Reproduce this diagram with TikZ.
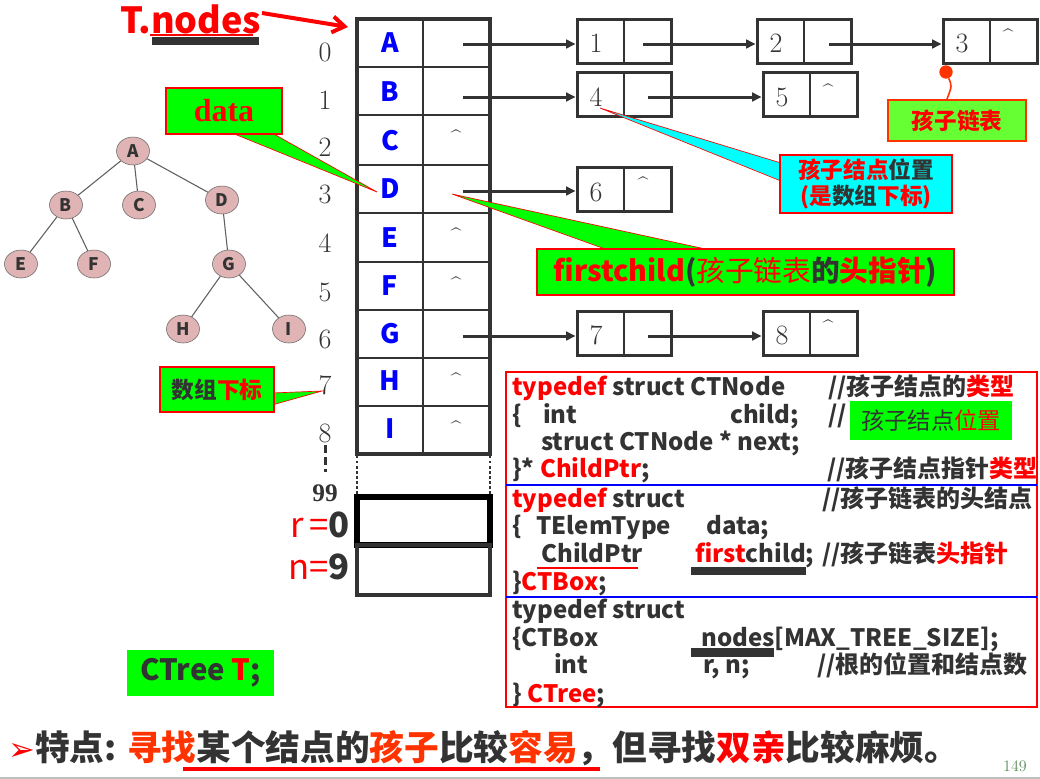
\documentclass[tikz,border=0pt]{standalone}
\usepackage{fontspec}
\newfontfamily\cjk{Noto Sans CJK SC}
\newfontfamily\dejavu{DejaVu Sans}
\newfontfamily\tms{Liberation Serif}
\usetikzlibrary{arrows.meta,shapes.geometric}
\definecolor{dk}{HTML}{333333}
\definecolor{rd}{HTML}{FF0000}
\definecolor{gr}{HTML}{00FF00}
\definecolor{grb}{HTML}{66FF33}
\definecolor{cy}{HTML}{00FFFF}
\definecolor{pk}{HTML}{E0B4B4}
\definecolor{og}{HTML}{FF3300}
\definecolor{bl}{HTML}{0000FF}
\definecolor{pg}{HTML}{5B8C5B}
\newcommand\myfs[1]{\fontsize{#1}{#1}\selectfont}
\begin{document}
\begin{tikzpicture}[x=0.75pt,y=-0.75pt,
  idx/.style={font=\myfs{21}, text=dk, inner sep=0},
  letr/.style={font=\cjk\bfseries\myfs{20}, text=bl, inner sep=0},
  car/.style={font=\myfs{14}, text=dk, inner sep=0, anchor=base},
  lbox/.style={draw=dk, line width=2.25pt, minimum width=70.5pt, minimum height=33pt, inner sep=0},
  num/.style={font=\myfs{21}, text=dk, inner sep=0},
  arr/.style={draw=dk, line width=2.25pt, -{Triangle[length=7pt,width=6.5pt]}},
  tn/.style={ellipse, draw=gray!80!black, fill=pk, minimum width=24.75pt, minimum height=21pt, inner sep=0, font=\cjk\bfseries\myfs{13}, text=dk},
  tedge/.style={draw=gray!75!black, line width=0.8pt},
  code/.style={font=\cjk\bfseries\myfs{18}, text=dk, inner sep=0, anchor=base west},
  wedge/.style={draw=rd, line width=0.5pt},
  cbox/.style={draw=rd, line width=0.8pt, inner sep=0}
]
\path[use as bounding box] (0,0) rectangle (1040,779);
\fill[white] (0,0) rectangle (1040,779);

% ---------- T.nodes ----------
\node[anchor=base west, inner sep=0, font=\cjk\bfseries\myfs{27}, text=rd] (tnodes) at (120,33) {T.nodes};
\draw[rd, line width=1.5pt] (150,35) -- (253,35);
\fill[dk] (152,37) rectangle (259,45);
\coordinate (arrT) at (348,27);
\draw[rd, line width=3pt, -{Straight Barb[length=9pt,width=12pt]}] (262,13) -- (arrT);

% ---------- tree ----------
\node[tn] (tA) at (133,151) {A};
\node[tn] (tB) at (66,205) {B};
\node[tn] (tC) at (139,205) {C};
\node[tn] (tD) at (222,200) {D};
\node[tn] (tE) at (21,264) {E};
\node[tn] (tF) at (94,264) {F};
\node[tn] (tG) at (229,264) {G};
\node[tn] (tH) at (183,329) {H};
\node[tn] (tI) at (289,329) {I};
\draw[tedge] (tA) -- (tB);
\draw[tedge] (tA) -- (tC);
\draw[tedge] (tA) -- (tD);
\draw[tedge] (tB) -- (tE);
\draw[tedge] (tB) -- (tF);
\draw[tedge] (tD) -- (tG);
\draw[tedge] (tG) -- (tH);
\draw[tedge] (tG) -- (tI);

% ---------- index numbers ----------
\node[idx] (i0) at (325,52) {0};
\node[idx] (i1) at (325,100) {1};
\node[idx] (i2) at (325,147) {2};
\node[idx] (i3) at (325,194) {3};
\node[idx] (i4) at (325,243) {4};
\node[idx] (i5) at (325,292) {5};
\node[idx] (i6) at (325,339) {6};
\node[idx] (i7) at (325,385) {7};
\node[idx] (i8) at (325,433) {8};
\draw[dk, line width=2.25pt, dash pattern=on 6pt off 3pt] (325,445) -- (325,472);
\node[idx, font=\tms\bfseries\myfs{19}] (i99) at (325,493) {99};

% ---------- array ----------
\foreach \y in {67,115,165,213,262,310,358,406}
  \draw[dk, line width=1.2pt] (357,\y) -- (490,\y);
\draw[dk, line width=1.2pt] (423,19) -- (423,454);
\draw[dk, line width=2.6pt] (357,19) rectangle (490,454);
\node[letr] (cA) at (390,43) {A};
\node[letr] (cB) at (390,92) {B};
\node[letr] (cC) at (390,141) {C};
\node[letr] (cD) at (390,189) {D};
\node[letr] (cE) at (390,238) {E};
\node[letr] (cF) at (390,286) {F};
\node[letr] (cG) at (390,334) {G};
\node[letr] (cH) at (390,381) {H};
\node[letr] (cI) at (390,429) {I};
\node[car] (kC) at (456,143) {\textasciicircum};
\node[car] (kE) at (456,241) {\textasciicircum};
\node[car] (kF) at (456,290) {\textasciicircum};
\node[car] (kH) at (456,386) {\textasciicircum};
\node[car] (kI) at (456,434) {\textasciicircum};
\draw[dk, line width=1.8pt, dotted] (357,456) -- (357,497);
\draw[dk, line width=1.8pt, dotted] (490,456) -- (490,497);
\draw[black, line width=3.8pt] (357,497) rectangle (490,545);
\draw[dk, line width=3pt] (357,545) rectangle (490,595);
\node[anchor=east, inner sep=0, font=\cjk\myfs{26}, text=rd] (rlab) at (350,525) {r\,=\textcolor{dk}{\bfseries 0}};
\node[anchor=east, inner sep=0, font=\cjk\myfs{26}, text=rd] (nlab) at (350,567) {n=\textcolor{dk}{\bfseries 9}};

% ---------- child lists ----------
\node[lbox] (n1) at (624,41) {};
\node[lbox] (n2) at (804,41) {};
\node[lbox] (n3) at (990,41) {};
\node[lbox] (n4) at (624,94.5) {};
\node[lbox] (n5) at (810,94.5) {};
\node[lbox] (n6) at (624,189.5) {};
\node[lbox] (n7) at (624,333) {};
\node[lbox] (n8) at (810,333) {};
\foreach \n in {n1,n2,n3,n4,n5,n6,n7,n8}
  \draw[dk, line width=1.2pt] (\n.north) -- (\n.south);
\node[num] at (596,43) {1};
\node[num] at (776,43) {2};
\node[num] at (962,43) {3};
\node[num] at (596,97) {4};
\node[num] at (782,97) {5};
\node[num] at (596,192) {6};
\node[num] at (596,335) {7};
\node[num] at (782,335) {8};
\node[car] at (1008,42) {\textasciicircum};
\node[car] at (828,97) {\textasciicircum};
\node[car] at (643,190) {\textasciicircum};
\node[car] at (828,333) {\textasciicircum};

\coordinate (pA) at (463,44);
\coordinate (pB) at (463,97);
\coordinate (pD) at (463,191);
\coordinate (pG) at (463,336);
\coordinate (p1) at (643,44);
\coordinate (p2) at (829,44);
\coordinate (p4) at (648,97);
\coordinate (p7) at (648,336);
\draw[arr] (pA) -- (pA -| n1.west);
\draw[arr] (p1) -- (p1 -| n2.west);
\draw[arr] (p2) -- (p2 -| n3.west);
\draw[arr] (pB) -- (pB -| n4.west);
\draw[arr] (p4) -- (p4 -| n5.west);
\draw[arr] (pD) -- (pD -| n6.west);
\draw[arr] (pG) -- (pG -| n7.west);
\draw[arr] (p7) -- (p7 -| n8.west);

% ---------- callouts ----------
\filldraw[wedge, fill=gr] (232,133) -- (377,192) -- (272,133) -- cycle;
\node[cbox, fill=gr, minimum width=87pt, minimum height=34.5pt, font=\tms\bfseries\myfs{24}, text=rd] (cdata) at (224,111) {data};

\filldraw[wedge, fill=gr] (608,250) -- (452,194) -- (710,250) -- cycle;
\node[cbox, fill=gr, minimum width=312.75pt, minimum height=34.5pt, font=\cjk\bfseries\myfs{21.5}, text=dk] (cfirst) at (745.5,272)
  {\textcolor{rd}{firstchild}(\textcolor{rd}{\mdseries 孩子链表}的\textcolor{rd}{头指针})};

\filldraw[wedge, fill=cy] (781,163) -- (600,108) -- (781,181) -- cycle;
\node[cbox, fill=cy, minimum width=129pt, minimum height=43.5pt, font=\cjk\bfseries\fontsize{17}{20}\selectfont, text=dk, align=center] (cpos) at (866,184)
  {\textcolor{rd}{孩子结点}位置\\\textcolor{rd}{(是}数组\textcolor{rd}{下标)}};

\node[draw=og, line width=1.5pt, fill=grb, inner sep=0, minimum width=103.5pt, minimum height=30.75pt, font=\cjk\bfseries\myfs{17}, text=rd] (clist) at (957,120.5) {孩子链表};
\node[circle, fill=og, inner sep=0, minimum size=10pt] (dot) at (946,72) {};
\draw[og, line width=1.2pt] (dot) .. controls (952,86) .. (clist.north -| 947,100);

\filldraw[wedge, fill=gr] (272,393) -- (322,391) -- (272,405) -- cycle;
\node[cbox, fill=gr, minimum width=85.5pt, minimum height=33.75pt, font=\cjk\bfseries\myfs{17}, text=dk] (cidx) at (217,389.5) {数组\textcolor{rd}{下标}};

% ---------- code box ----------
\draw[rd, line width=1.6pt] (506,372) rectangle (1037,707);
\draw[bl, line width=1.4pt] (506,485) -- (1037,485);
\draw[bl, line width=1.4pt] (506,597) -- (1037,597);

\node[code] at (512,395) {\textcolor{rd}{typedef} struct CTNode};
\node[code] at (828,395) {//孩子结点的\textcolor{rd}{类型}};
\node[code] at (512,423) {\{};
\node[code] at (543,423) {int};
\node[code] at (730,423) {child;};
\node[code] at (828,423) {//};
\node[code] at (541,450) {struct CTNode * next;};
\node[code] at (512,477) {\}* \textcolor{rd}{ChildPtr};};
\node[code] at (827,477) {//孩子结点指针\textcolor{rd}{类型}};
\node[fill=gr, inner sep=0, minimum width=121.5pt, minimum height=29.25pt, font=\cjk\myfs{17.5}, text=dk] (cgreen) at (931,420.5) {孩子结点\textcolor{rd}{位置}};

\node[code] at (512,507) {\textcolor{rd}{typedef} struct};
\node[code] at (822,507) {//孩子链表的头结点};
\node[code] at (512,534) {\{};
\node[code] at (536,534) {TElemType};
\node[code] at (706,534) {data;};
\node[code] at (541,562) {ChildPtr};
\draw[rd, line width=1.8pt] (537,568) -- (638,568);
\node[code] at (695,562) {\textcolor{rd}{first}child;};
\fill[dk] (691,567) rectangle (806,575);
\node[code] at (822,562) {//孩子链表\textcolor{rd}{头指针}};
\node[code] at (512,590) {\}\textcolor{rd}{CTBox};};

\node[code] at (512,618) {typedef struct};
\node[code] at (512,646) {\{CTBox};
\node[code] at (701,646) {nodes[MAX\_TREE\_SIZE];};
\fill[dk] (691,648) rectangle (774,657);
\node[code] at (554,673) {int};
\node[code] at (703,673) {r, n;};
\node[code] at (817,673) {//根的位置和结点数};
\node[code] at (512,702) {\} \textcolor{rd}{CTree};};

% ---------- CTree T ----------
\node[fill=gr, inner sep=0, minimum width=110.25pt, minimum height=34.5pt, font=\cjk\bfseries\myfs{22}, text=dk] (ctree) at (200.5,673) {CTree \textcolor{rd}{T};};

% ---------- bottom ----------
\node[anchor=base west, inner sep=0, font=\cjk\bfseries\myfs{26}, text=dk] (bottom) at (8,760)
  {{\dejavu\myfs{24}\textcolor{rd}{➢}}特点: \textcolor{og}{寻找}某个结点的\textcolor{og}{孩子}比较\textcolor{og}{容易}，但寻找\textcolor{rd}{双亲}比较麻烦。};
\draw[rd, line width=2.4pt] (183,769) -- (600,769);
\node[inner sep=0, font=\myfs{12}, text=pg] (pgno) at (1015,766) {149};
\draw[gray!50, line width=1.5pt] (0,777.5) -- (1040,777.5);
\end{tikzpicture}
\end{document}
